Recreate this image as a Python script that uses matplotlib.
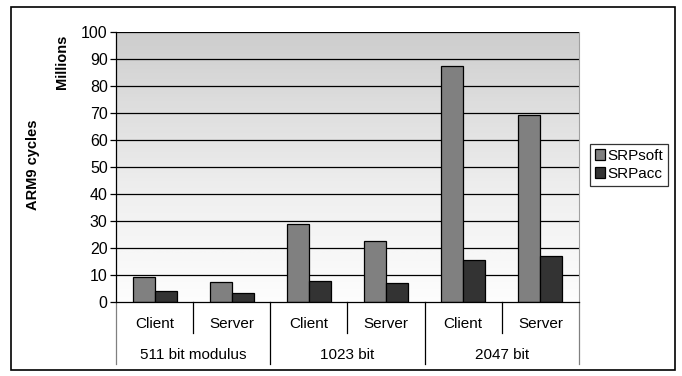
import numpy as np
import matplotlib
matplotlib.use("Agg")
import matplotlib.pyplot as plt
from matplotlib.patches import Rectangle

plt.rcParams['font.family'] = ['Liberation Sans', 'DejaVu Sans']

# ---------- data (millions of ARM9 cycles) ----------
groups = ['511 bit modulus', '1023 bit', '2047 bit']
roles = ['Client', 'Server', 'Client', 'Server', 'Client', 'Server']
srp_soft = [9.3, 7.4, 28.8, 22.5, 87.4, 69.1]
srp_acc = [4.0, 3.5, 7.8, 7.2, 15.4, 17.2]
y_ticks = [0, 10, 20, 30, 40, 50, 60, 70, 80, 90, 100]

W, H = 682, 376
fig = plt.figure(figsize=(W / 100, H / 100), dpi=100)
fig.patch.set_facecolor('white')

# plot area in pixels: x 116..579, y 32..302
ax = fig.add_axes([116 / W, 1 - 302 / H, (579 - 116) / W, (302 - 32) / H])

n = len(roles)
x = np.arange(n) + 0.5
bw = 1 / 3.5  # excel gap width 150%

# gradient background: light at the bottom, grey at the top
grad = np.linspace(0.0, 1.0, 256).reshape(-1, 1)
ax.imshow(grad, extent=[0, n, 0, 100], aspect='auto', cmap='Greys',
          vmin=-0.05, vmax=3.4, zorder=0, origin='lower')

for yt in y_ticks[1:]:
    ax.axhline(yt, color='black', lw=0.9, zorder=1)

ax.bar(x - bw / 2, srp_soft, bw, color='#808080', edgecolor='black', lw=0.9,
       label='SRPsoft', zorder=2)
ax.bar(x + bw / 2, srp_acc, bw, color='#333333', edgecolor='black', lw=0.9,
       label='SRPacc', zorder=2)

ax.set_xlim(0, n)
ax.set_ylim(0, 100)
ax.set_yticks(y_ticks)
ax.set_yticklabels([str(v) for v in y_ticks], fontsize=11.5)
ax.tick_params(axis='y', direction='out', length=4, width=0.9, pad=2)
ax.set_xticks([])
ax.spines['top'].set_visible(False)
ax.spines['right'].set_color('#a0a0a0')
ax.spines['left'].set_linewidth(0.9)
ax.spines['bottom'].set_linewidth(0.9)

# category labels (two-level)
tr = ax.get_xaxis_transform()
for xi, r in zip(x, roles):
    ax.text(xi, -0.08, r, transform=tr, ha='center', va='center', fontsize=11)
for gi, g in enumerate(groups):
    ax.text(2 * gi + 1, -0.197, g, transform=tr, ha='center', va='center', fontsize=11)
for b in range(1, n):
    depth = -0.229 if b % 2 == 0 else -0.115
    ax.plot([b, b], [0, depth], transform=tr, color='black', lw=0.9, clip_on=False)
for b in [0, n]:
    ax.plot([b, b], [0, -0.229], transform=tr, color='#808080', lw=0.9, clip_on=False)

# axis titles
fig.text(33 / W, 1 - 165 / H, 'ARM9 cycles', rotation=90, ha='center', va='center',
         fontsize=10.5, fontweight='bold')
fig.text(62 / W, 1 - 62 / H, 'Millions', rotation=90, ha='center', va='center',
         fontsize=10.5, fontweight='bold')

# legend
leg = fig.legend(loc='upper left', bbox_to_anchor=(590 / W, 1 - 144 / H),
                 fontsize=11, frameon=True, fancybox=False, edgecolor='black',
                 handlelength=0.7, handleheight=0.7, handletextpad=0.15,
                 borderpad=0.3, labelspacing=0.3, borderaxespad=0)
leg.get_frame().set_linewidth(0.9)

# outer chart frame
fig.patches.append(Rectangle((11 / W, 1 - 370 / H), (675 - 11) / W, (370 - 7) / H,
                             transform=fig.transFigure, fill=False,
                             edgecolor='black', lw=1.2))

fig.savefig('out.png', dpi=100)
